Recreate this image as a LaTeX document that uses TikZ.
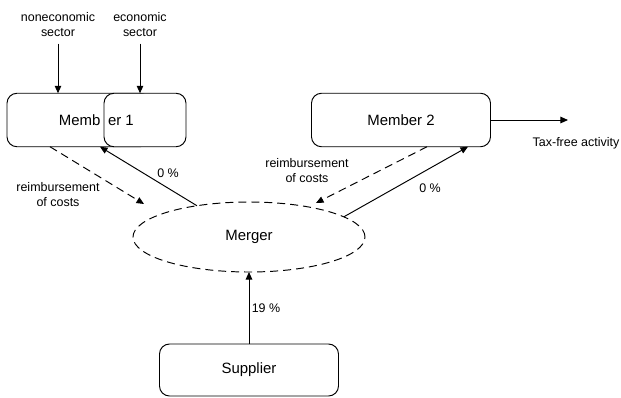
\documentclass[tikz,border=0pt]{standalone}
\usepackage{fontspec}
\setmainfont{Liberation Sans}
\usetikzlibrary{arrows.meta,shapes.geometric}

\begin{document}
\begin{tikzpicture}[scale=0.2,
  every node/.style={inner sep=0pt, outer sep=0pt},
  boxtext/.style={font=\fontsize{8.5}{10.2}\selectfont},
  smalltext/.style={font=\fontsize{7.1}{8.5}\selectfont, align=center},
  member/.style={boxtext, draw, line width=0.55pt, rounded corners=0.2cm, minimum height=1.07cm, fill=white},
  flow/.style={-{Triangle[length=0.15cm,width=0.13cm]}, line width=0.55pt},
  refund/.style={flow, dash pattern=on 0.16cm off 0.1cm}]
\useasboundingbox (0,0) rectangle (62.1,-39.7);
% members and supplier
\node [member, minimum width=2.86cm] (mem1a) at (7.85,-12.0) {};
\node [member, minimum width=1.64cm] (mem1b) at (14.5,-12.0) {};
\node [boxtext, anchor=east] (memb) at (10.05,-12.0) {Memb};
\node [boxtext, anchor=west] (er1) at (10.8,-12.0) {er 1};
\node [member, minimum width=3.58cm] (mem2) at (40.1,-12.0) {Member 2};
\node [member, minimum width=3.58cm, minimum height=1.04cm] (supplier) at (24.9,-37.0) {Supplier};
\node [boxtext, draw, ellipse, line width=0.55pt, dash pattern=on 0.16cm off 0.1cm,
       minimum width=4.64cm, minimum height=1.4cm] (merger) at (24.9,-23.7) {Merger};
% sectors
\node [smalltext] (noneco) at (5.8,-2.45) {noneconomic\\sector};
\node [smalltext] (eco) at (14.0,-2.45) {economic\\sector};
\draw [flow, shorten <=0.14cm] (noneco.south) -- (noneco.south |- mem1a.north);
\draw [flow, shorten <=0.14cm] (eco.south) -- (eco.south |- mem1b.north);
% tax-free activity
\coordinate (taxend) at (56.8,-12.0);
\draw [flow] (mem2.east) -- (taxend);
\node [smalltext] (taxfree) at (57.6,-14.3) {Tax-free activity};
% supplier to merger
\draw [flow] (supplier.north) -- (merger.south);
\node [smalltext] (pct19) at (26.6,-30.8) {19 \%};
% member 1
\coordinate (ref1) at (5.0,-14.7);
\coordinate (tip1) at (14.4,-20.4);
\coordinate (in1) at (10.0,-14.7);
\draw [refund] (ref1 |- mem1a.south) -- (tip1);
\draw [flow] (merger.149) -- (in1 |- mem1a.south);
\node [smalltext] (reimb1) at (5.8,-19.45) {reimbursement\\of costs};
\node [smalltext] (pct1) at (16.8,-17.3) {0 \%};
% member 2
\coordinate (ref2) at (42.7,-14.7);
\coordinate (tip2) at (31.6,-20.3);
\coordinate (in2) at (46.8,-14.7);
\draw [refund] (ref2 |- mem2.south) -- (tip2);
\draw [flow] (merger.12) -- (in2 |- mem2.south);
\node [smalltext] (reimb2) at (30.7,-17.05) {reimbursement\\of costs};
\node [smalltext] (pct2) at (43.0,-18.8) {0 \%};
\end{tikzpicture}
\end{document}
